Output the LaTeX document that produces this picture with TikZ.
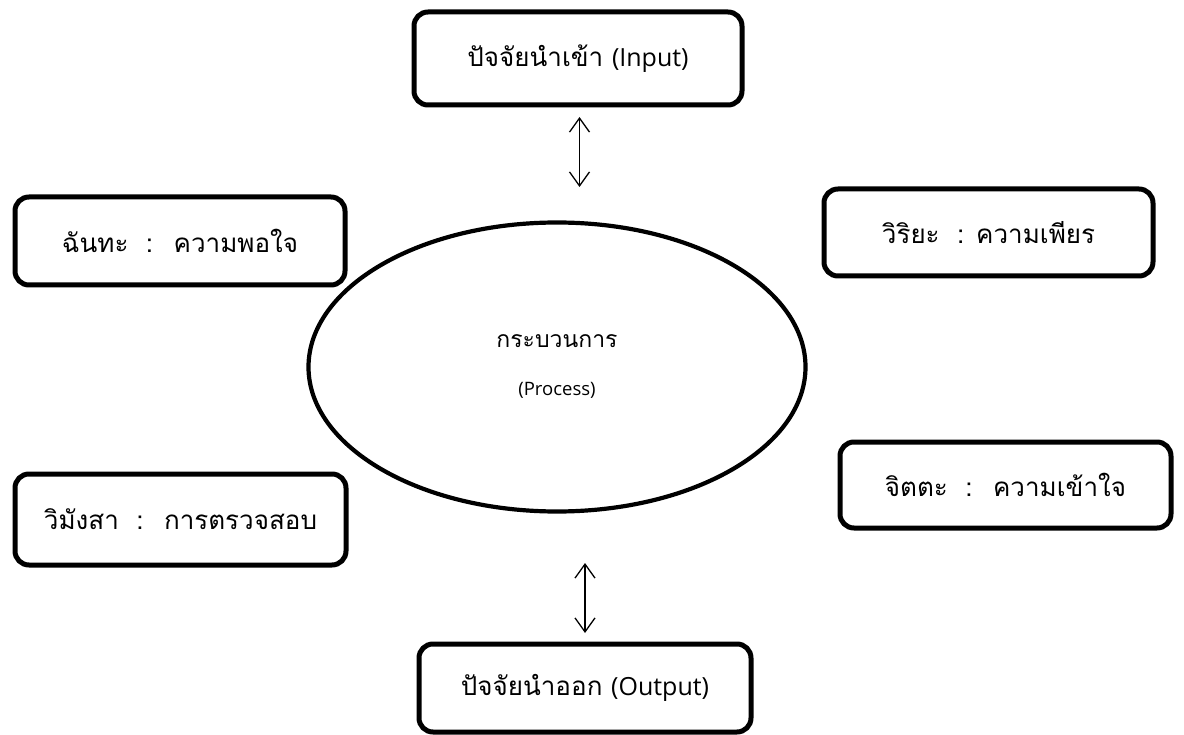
\documentclass[tikz,border=0pt]{standalone}
\usepackage{fontspec}
\newfontfamily\thaifont[Script=Thai]{Loma}
\newfontfamily\latfont{Open Sans}
\newcommand{\latpart}[1]{{\latfont\fontsize{25}{28}\selectfont #1}}
\usetikzlibrary{arrows.meta,shapes.geometric}
\tikzset{
  box/.style={draw=black, line width=5pt, rounded corners=14pt, fill=white,
    inner sep=0pt, font=\thaifont\fontsize{26}{30}\selectfont},
  proc/.style={draw=black, line width=4.2pt, ellipse, inner sep=0pt},
  dbl/.style={line width=1.3pt, {Straight Barb[length=14pt,width=20pt]}-{Straight Barb[length=14pt,width=20pt]}},
}
\begin{document}
\begin{tikzpicture}[x=1pt,y=-1pt]
\useasboundingbox (0,0) rectangle (1184,735);
\node[proc, minimum width=497pt, minimum height=289pt] (p) at (557,367) {};
\node[font=\thaifont\fontsize{23}{26}\selectfont] (pt) at (557,341) {กระบวนการ};
\node[font=\latfont\fontsize{18.5}{20}\selectfont] (pe) at (557,390) {(Process)};
\node[box, minimum width=328pt, minimum height=93pt] (in) at (578,58.5) {ปัจจัยนำเข้า \latpart{(Input)}};
\node[box, minimum width=330pt, minimum height=88pt] (ch) at (180,241) {ฉันทะ \ : \ ความพอใจ};
\node[box, minimum width=329pt, minimum height=87pt] (wi) at (988.5,232.5) {วิริยะ \ : ความเพียร};
\node[box, minimum width=331pt, minimum height=91pt] (wm) at (180.5,519.5) {วิมังสา \ : \ การตรวจสอบ};
\node[box, minimum width=331pt, minimum height=86pt] (ct) at (1005.5,485) {จิตตะ \ : \ ความเข้าใจ};
\node[box, minimum width=332pt, minimum height=88pt] (out) at (585,688) {ปัจจัยนำออก \latpart{(Output)}};
\coordinate (a1) at (579.5,117);
\coordinate (a2) at (579.5,187);
\coordinate (b1) at (585,563);
\coordinate (b2) at (585,633);
\draw[dbl] (a1) -- (a2);
\draw[dbl] (b1) -- (b2);
\end{tikzpicture}
\end{document}
